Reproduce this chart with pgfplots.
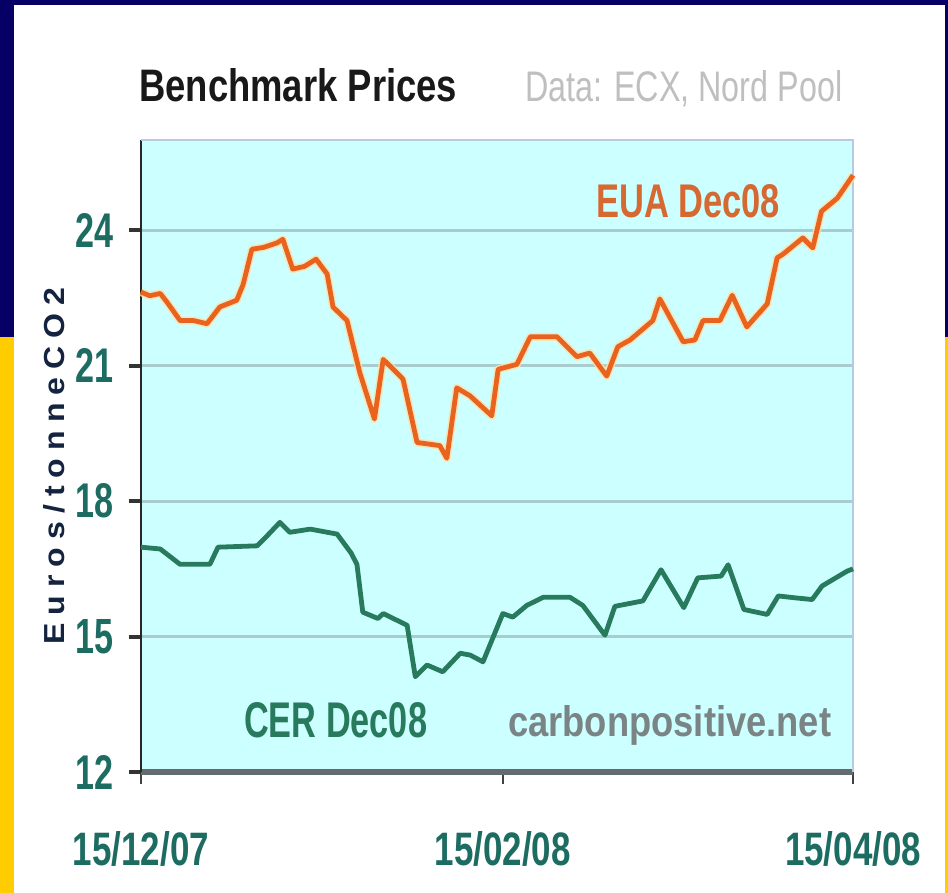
\documentclass[border=0pt]{standalone}
\usepackage{pgfplots}
\pgfplotsset{compat=1.18}
\usepackage{fontspec}
\setmainfont{Liberation Sans}
\usepackage{graphicx}
\definecolor{navy}{RGB}{6,0,102}
\definecolor{gold}{RGB}{255,204,0}
\definecolor{plotbg}{RGB}{204,255,255}
\definecolor{gridc}{RGB}{170,204,206}
\definecolor{euac}{RGB}{232,98,32}
\definecolor{euahalo}{RGB}{255,224,170}
\definecolor{cerc}{RGB}{40,122,92}
\definecolor{tickc}{RGB}{28,108,98}
\definecolor{ylab}{RGB}{20,36,64}
\definecolor{axgray}{RGB}{100,106,110}
\definecolor{framec}{RGB}{182,202,228}
\newcommand{\tl}[1]{\resizebox{38bp}{34bp}{\bfseries #1}}
\newcommand{\xl}[1]{\resizebox{136bp}{34bp}{\bfseries #1}}
\pgfplotstableread{
day eua
0 22.63
1.5 22.55
3.3 22.6
4.5 22.4
6.7 22.0
9 22.0
11.3 21.93
13.5 22.3
16.4 22.45
17.5 22.8
19 23.58
21 23.62
23.3 23.72
24.3 23.8
26 23.14
28 23.2
30 23.36
31.9 23.03
32.9 22.3
35.3 22.0
37.5 20.84
40 19.82
41.5 21.14
44.4 20.77
44.9 20.7
47.3 19.3
51.2 19.23
52.4 18.95
54.1 20.51
56.4 20.33
60.1 19.89
61.2 20.92
64.4 21.03
66.7 21.64
71.3 21.64
74.7 21.2
76.9 21.28
79.8 20.77
81.7 21.42
83.8 21.57
87.7 22.0
88.9 22.48
92.9 21.53
94.9 21.57
96.3 22.0
99.2 22.0
101.3 22.56
103.8 21.86
107.3 22.37
109 23.39
110 23.47
113.4 23.83
115.1 23.61
116.6 24.42
119.3 24.71
122 25.22
}\euatable
\pgfplotstableread{
day cer
0 16.98
3.3 16.94
6.7 16.6
11.8 16.6
13.2 16.98
19.9 17.01
21.6 17.23
23.8 17.53
25.5 17.31
29 17.38
33.6 17.27
36 16.85
37 16.6
38 15.54
40.6 15.4
41.5 15.51
45.6 15.25
47 14.11
49 14.37
51.7 14.22
54.7 14.63
56.4 14.59
58.6 14.44
62 15.51
63.7 15.43
66.1 15.69
68.9 15.87
73.5 15.87
75.7 15.69
79.5 15.03
81.2 15.67
86 15.79
89.1 16.48
93 15.64
95.4 16.30
99.4 16.34
100.6 16.59
103.3 15.60
107.3 15.49
109.2 15.90
111.9 15.86
115 15.82
116.7 16.12
121 16.45
122 16.5
}\certable
\begin{document}
\begin{tikzpicture}[x=1bp,y=1bp]
\fill[navy] (0,0) rectangle (948,893);
\fill[gold] (0,0) rectangle (948,556);
\fill[white] (14,0) rectangle (945,888);
\begin{axis}[
  at={(141bp,121bp)}, anchor=south west,
  scale only axis, width=712bp, height=632bp,
  xmin=0, xmax=122, ymin=12, ymax=26,
  axis background/.style={fill=plotbg},
  axis x line*=bottom, axis y line*=left,
  axis line style={-},
  x axis line style={line width=6bp, draw=axgray},
  y axis line style={line width=2.5bp, draw=black!85},
  xtick={0,62,122},
  xticklabels={\xl{15/12/07},\xl{15/02/08},\xl{15/04/08}},
  ytick={12,15,18,21,24},
  yticklabels={\tl{12},\tl{15},\tl{18},\tl{21},\tl{24}},
  tick align=outside,
  major tick length=12bp,
  xtick style={line width=2.5bp, draw=black!75},
  ytick style={line width=4bp, draw=black!80},
  xticklabel style={anchor=north, inner sep=0pt, text=tickc, yshift=-47bp},
  yticklabel style={anchor=east, inner sep=0pt, text=tickc, xshift=-15bp},
  ymajorgrids,
  grid style={line width=3bp, draw=gridc},
  clip=false,
]
\draw[line width=2bp, draw=framec] (rel axis cs:0,1) -- (rel axis cs:1,1) -- (rel axis cs:1,0);
\addplot[euahalo, line width=8bp, line join=round, opacity=0.8] table[x=day, y=eua] {\euatable};
\addplot[euac, line width=4.8bp, line join=round] table[x=day, y=eua] {\euatable};
\addplot[cerc, line width=4.8bp, line join=round] table[x=day, y=cer] {\certable};
\end{axis}
\node[anchor=base west, inner sep=0pt, text=black!90] at (139,791) {\resizebox{318bp}{33bp}{\bfseries Benchmark Prices}};
\node[anchor=base west, inner sep=0pt, text=black!25] at (525,791) {\resizebox{317bp}{31bp}{Data: ECX, Nord Pool}};
\node[anchor=base west, inner sep=0pt, text={rgb,255:red,214;green,104;blue,50}] at (596,675) {\resizebox{184bp}{33bp}{\bfseries EUA Dec08}};
\node[anchor=base west, inner sep=0pt, text=cerc] at (244,155) {\resizebox{183bp}{35bp}{\bfseries CER Dec08}};
\node[anchor=base west, inner sep=0pt, text={rgb,255:red,122;green,132;blue,132}] at (508,156) {\resizebox{323bp}{31bp}{\bfseries carbonpositive.net}};
\node[anchor=base, inner sep=0pt, rotate=90, text=ylab] at (64,427) {\resizebox{357bp}{21bp}{\bfseries\addfontfeatures{LetterSpace=25}Euros/tonneCO2}};
\end{tikzpicture}
\end{document}
